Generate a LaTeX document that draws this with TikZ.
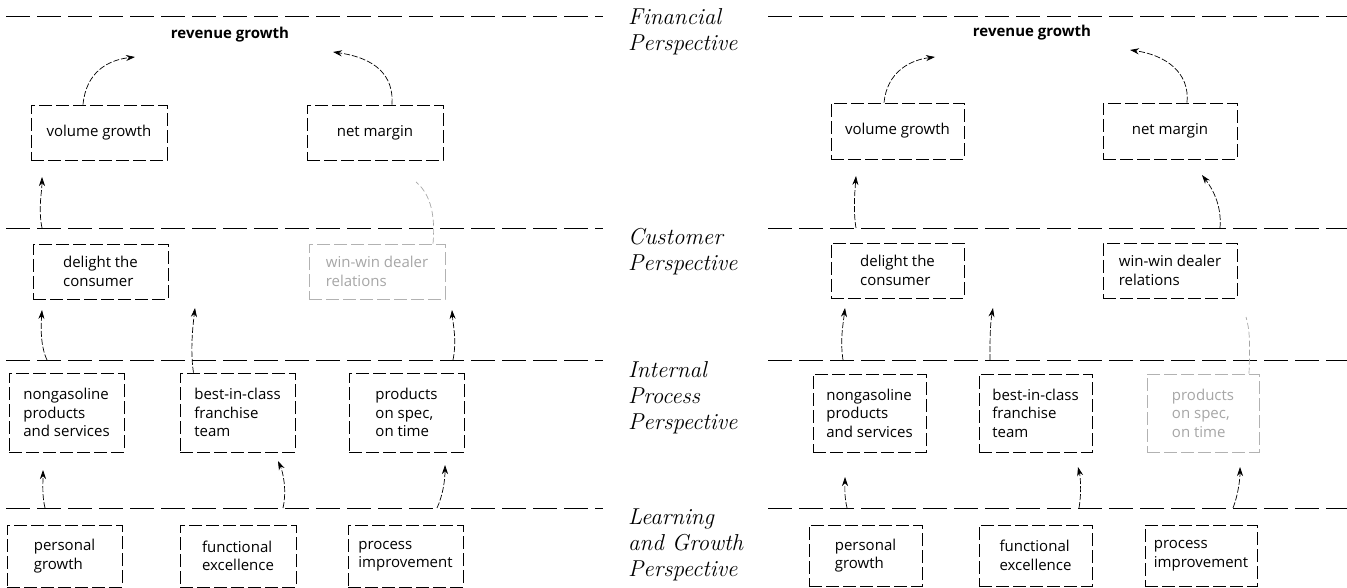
\documentclass[tikz,border=0pt]{standalone}
\usepackage{fontspec}
\newfontfamily\boxfont{Open Sans}
\usetikzlibrary{arrows.meta}
\begin{document}
\begin{tikzpicture}[x=1pt,y=-1pt,
  layer/.style={draw=black, line width=0.8pt, dash pattern=on 24pt off 7pt},
  box/.style={draw=black, line width=0.6pt, dash pattern=on 13pt off 4pt, inner sep=0pt, align=left,
     font=\boxfont\fontsize{15}{18.5}\selectfont},
  faded/.style={draw=black!30, text=black!35},
  persp/.style={anchor=base west, inner sep=0pt, align=left, font=\itshape\fontsize{23}{26}\selectfont},
  goal/.style={inner sep=0pt, font=\boxfont\bfseries\fontsize{15}{18}\selectfont},
  arr/.style={line width=0.7pt, dash pattern=on 6pt off 2pt, -{Stealth[length=9pt,width=6pt]}},
  fadedarr/.style={line width=0.7pt, dash pattern=on 6pt off 3pt, draw=black!35}
]
\useasboundingbox (0,0) rectangle (1347,588);
% layer lines
\foreach \yy in {16,228,360,508}{
  \draw[layer] (6,\yy) -- (603,\yy);
  \draw[layer] (768,\yy) -- (1347,\yy);
}
% perspective labels (anchor = baseline of last line)
\node[persp] (pf) at (628,51) {Financial\\Perspective};
\node[persp] (pc) at (628,270) {Customer\\Perspective};
\node[persp] (pp) at (628,429) {Internal\\Process\\Perspective};
\node[persp] (pl) at (628,576) {Learning\\and Growth\\Perspective};

% ---------- left panel ----------
\node[goal] (rgL) at (230,35) {revenue growth};
\node[box, minimum width=136pt, minimum height=55pt] (vgL) at (99,132.5) {volume growth};
\node[box, minimum width=136pt, minimum height=55pt] (nmL) at (375,132.5) {net margin};
\node[box, minimum width=135pt, minimum height=55pt] (dcL) at (100.5,271.5) {delight the\\consumer};
\node[box, faded, minimum width=136pt, minimum height=55pt] (wwL) at (377,271.5) {win-win dealer\\relations};
\node[box, minimum width=115pt, minimum height=79pt] (ngL) at (66.5,412.5) {nongasoline\\products\\and services};
\node[box, minimum width=115pt, minimum height=79pt] (bcL) at (237.5,412.5) {best-in-class\\franchise\\team};
\node[box, minimum width=115pt, minimum height=79pt] (psL) at (406.5,412.5) {products\\on spec,\\on time};
\node[box, minimum width=115pt, minimum height=62pt] (pgL) at (64.5,556) {personal\\growth};
\node[box, minimum width=116pt, minimum height=62pt] (feL) at (238,556) {functional\\excellence};
\node[box, minimum width=115pt, minimum height=62pt] (piL) at (405.5,556) {process\\improvement};

\coordinate (a1e) at (135,57);
\coordinate (a2e) at (333,52);
\coordinate (a3s) at (42,228);   \coordinate (a3e) at (42,177);
\coordinate (a4e) at (416,182);
\coordinate (a5s) at (47,360);   \coordinate (a5e) at (42,310);
\coordinate (a6e) at (195,308);
\coordinate (a7s) at (453,360);  \coordinate (a7e) at (452,310);
\coordinate (a8s) at (45,508);   \coordinate (a8e) at (43,470);
\coordinate (a9s) at (283,508);  \coordinate (a9e) at (278,461);
\coordinate (a10s) at (437,508); \coordinate (a10e) at (445,465);

\draw[arr] ([xshift=-16pt]vgL.north) .. controls (86,72) and (108,60) .. (a1e);
\draw[arr] ([xshift=17pt]nmL.north) .. controls (394,75) and (375,58) .. (a2e);
\draw[arr] (a3s) .. controls (38,208) and (42,192) .. (a3e);
\draw[fadedarr] ([xshift=56pt]wwL.north) .. controls (436,210) and (428,192) .. (a4e);
\draw[arr] (a5s) .. controls (40,345) and (41,325) .. (a5e);
\draw[arr] ([xshift=-44pt]bcL.north) .. controls (190,350) and (193,325) .. (a6e);
\draw[arr] (a7s) .. controls (457,340) and (453,325) .. (a7e);
\draw[arr] (a8s) .. controls (42,495) and (43,485) .. (a8e);
\draw[arr] (a9s) .. controls (287,490) and (283,472) .. (a9e);
\draw[arr] (a10s) .. controls (443,495) and (445,480) .. (a10e);

% ---------- right panel ----------
\node[goal] (rgR) at (1032,33) {revenue growth};
\node[box, minimum width=133pt, minimum height=56pt] (vgR) at (897.5,131) {volume growth};
\node[box, minimum width=134pt, minimum height=56pt] (nmR) at (1170,131) {net margin};
\node[box, minimum width=133pt, minimum height=55pt] (dcR) at (897.5,270.5) {delight the\\consumer};
\node[box, minimum width=134pt, minimum height=55pt] (wwR) at (1170,270.5) {win-win dealer\\relations};
\node[box, minimum width=113pt, minimum height=78pt] (ngR) at (869.5,413) {nongasoline\\products\\and services};
\node[box, minimum width=113pt, minimum height=78pt] (bcR) at (1035.5,413) {best-in-class\\franchise\\team};
\node[box, faded, minimum width=112pt, minimum height=78pt] (psR) at (1203,413) {products\\on spec,\\on time};
\node[box, minimum width=113pt, minimum height=61pt] (pgR) at (865.5,555.5) {personal\\growth};
\node[box, minimum width=113pt, minimum height=61pt] (feR) at (1035.5,555.5) {functional\\excellence};
\node[box, minimum width=112pt, minimum height=61pt] (piR) at (1201,555.5) {process\\improvement};

\coordinate (b1e) at (935,57);
\coordinate (b2e) at (1130,50);
\coordinate (b3s) at (856,228);  \coordinate (b3e) at (856,176);
\coordinate (b4s) at (1220,228); \coordinate (b4e) at (1202,175);
\coordinate (b5s) at (843,360);  \coordinate (b5e) at (845,308);
\coordinate (b6s) at (990,360);  \coordinate (b6e) at (993,308);
\coordinate (b7e) at (1246,317);
\coordinate (b8s) at (847,508);  \coordinate (b8e) at (845,477);
\coordinate (b9s) at (1079,508); \coordinate (b9e) at (1078,467);
\coordinate (b10s) at (1233,508);\coordinate (b10e) at (1240,467);

\draw[arr] ([xshift=-13.5pt]vgR.north) .. controls (887,72) and (910,60) .. (b1e);
\draw[arr] ([xshift=17pt]nmR.north) .. controls (1190,72) and (1165,55) .. (b2e);
\draw[arr] (b3s) .. controls (853,210) and (855,190) .. (b3e);
\draw[arr] (b4s) .. controls (1222,205) and (1212,188) .. (b4e);
\draw[arr] (b5s) .. controls (840,340) and (843,325) .. (b5e);
\draw[arr] (b6s) .. controls (990,340) and (990,325) .. (b6e);
\draw[fadedarr] ([xshift=46pt]psR.north) .. controls (1250,345) and (1250,330) .. (b7e);
\draw[arr] (b8s) .. controls (844,495) and (845,485) .. (b8e);
\draw[arr] (b9s) .. controls (1082,490) and (1080,475) .. (b9e);
\draw[arr] (b10s) .. controls (1238,495) and (1240,480) .. (b10e);
\end{tikzpicture}
\end{document}
